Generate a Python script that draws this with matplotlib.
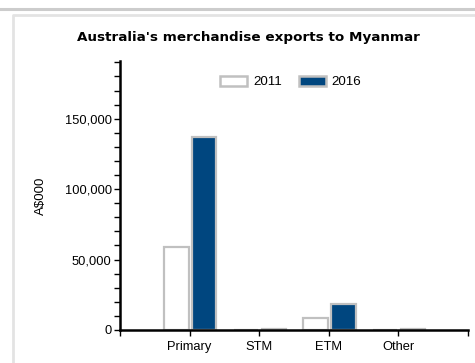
import matplotlib
matplotlib.use("Agg")
import matplotlib.pyplot as plt
from matplotlib.lines import Line2D
from matplotlib.patches import Rectangle
from matplotlib.ticker import MultipleLocator, FuncFormatter
import numpy as np

categories = ["Primary", "STM", "ETM", "Other"]
exports_2011 = [59000, 0, 8800, 0]
exports_2016 = [136800, 500, 18300, 500]
series_labels = ["2011", "2016"]

fill_2011 = "#ffffff"
fill_2016 = "#00467f"
edge = "#c0c0c0"

plt.rcParams["font.family"] = ["Liberation Sans", "DejaVu Sans"]

fig = plt.figure(figsize=(4.75, 3.63), dpi=100)
W, H = 475, 363

# outer frame lines
fig.add_artist(Line2D([0, 1], [1 - 9 / H, 1 - 9 / H], color="#cccccc", lw=2.2,
                      transform=fig.transFigure))
fig.add_artist(Line2D([13 / W, 13 / W, 1], [0, 1 - 15 / H, 1 - 15 / H],
                      color="#e3e3e3", lw=2.0, transform=fig.transFigure))

ax_w, ax_h = 468 - 120, 330 - 61
ax = fig.add_axes([120 / W, 1 - 330 / H, ax_w / W, ax_h / H])

x = np.arange(len(categories))
ax.bar(x - 0.19, exports_2011, width=0.35, color=fill_2011, edgecolor=edge,
       linewidth=1.6, zorder=2)
ax.bar(x + 0.21, exports_2016, width=0.35, color=fill_2016, edgecolor=edge,
       linewidth=1.6, zorder=2)

ax.set_xlim(-1, 4)
ax.set_ylim(0, 191000)

ax.set_xticks(np.arange(-1, 5))
ax.set_xticklabels([""] + categories + [""], fontsize=9.3)
ax.yaxis.set_major_locator(MultipleLocator(50000))
ax.yaxis.set_minor_locator(MultipleLocator(10000))
ax.yaxis.set_major_formatter(FuncFormatter(lambda v, p: f"{int(v):,}"))
ax.tick_params(axis="y", which="both", length=4, width=1, labelsize=9.3, pad=2)
ax.tick_params(axis="x", length=4, width=1, pad=4)

for s in ("top", "right"):
    ax.spines[s].set_visible(False)
for s in ("left", "bottom"):
    ax.spines[s].set_linewidth(1.8)
    ax.spines[s].set_zorder(3)

ax.set_ylabel("A$000", fontsize=9.5)
ax.yaxis.set_label_coords((47 - 120) / ax_w, 0.5)

handles = [Rectangle((0, 0), 1, 1, facecolor=fill_2011, edgecolor=edge, lw=1.8),
           Rectangle((0, 0), 1, 1, facecolor=fill_2016, edgecolor=edge, lw=1.8)]
ax.legend(handles, series_labels, ncol=2, frameon=False, fontsize=9.6,
          loc="center", bbox_to_anchor=((291 - 120) / ax_w, 1 - (82 - 61) / ax_h),
          handlelength=2.0, handleheight=0.8, handletextpad=0.45, columnspacing=1.3)

fig.text(248 / W, 1 - 37 / H, "Australia's merchandise exports to Myanmar",
         ha="center", va="center", fontsize=9.7, fontweight="bold",
         family=["DejaVu Sans"])

fig.savefig("out.png", dpi=100)
